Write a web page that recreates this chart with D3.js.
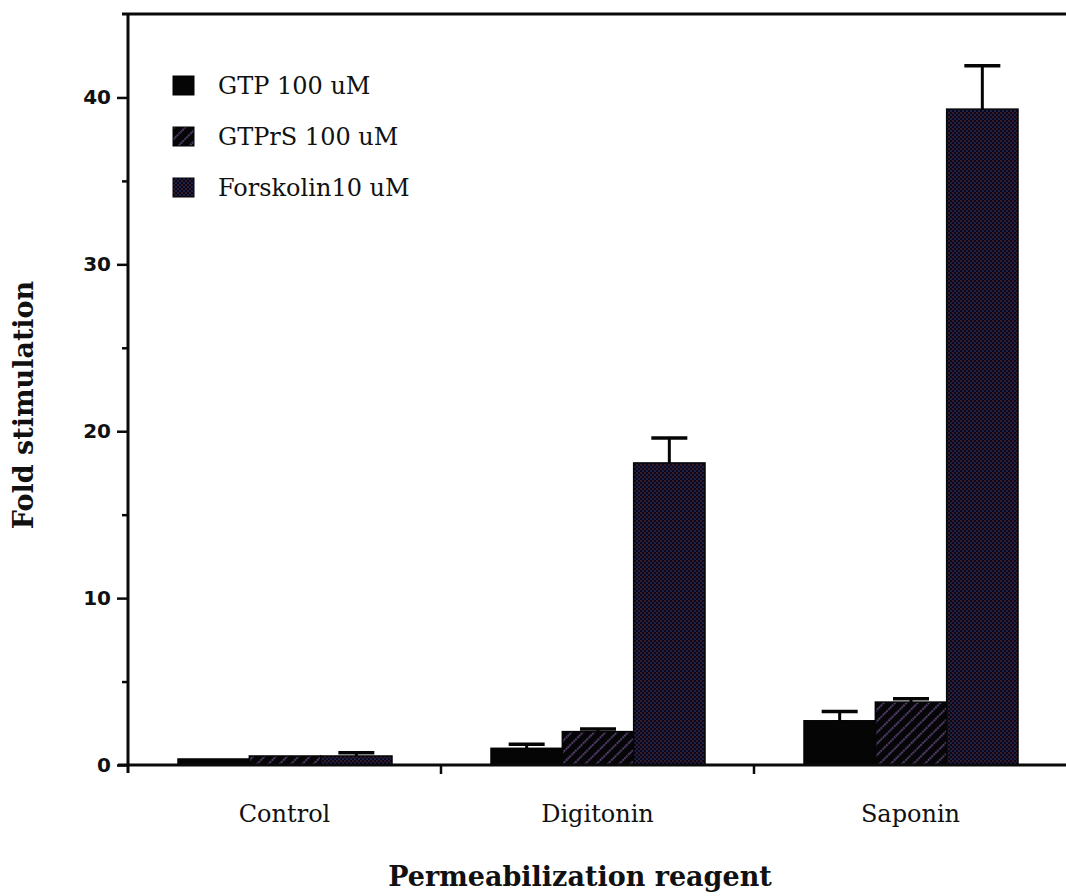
<!DOCTYPE html>
<html>
<head>
<meta charset="utf-8">
<script src="https://cdn.jsdelivr.net/npm/d3@7/dist/d3.min.js"></script>
<style>
  html, body { margin: 0; padding: 0; background: #fff; }
  svg { display: block; }
</style>
</head>
<body>
<svg id="chart" width="1066" height="896"></svg>
<script>
// ---- data ----
const categories = ["Control", "Digitonin", "Saponin"];
const seriesNames = ["GTP 100 uM", "GTPrS 100 uM", "Forskolin10 uM"];
const gtpValues = [0.36, 1.0, 2.65];
const gtpErrors = [0.0, 0.25, 0.55];
const gtprsValues = [0.54, 2.0, 3.77];
const gtprsErrors = [0.0, 0.15, 0.2];
const forskolinValues = [0.54, 18.1, 39.3];
const forskolinErrors = [0.2, 1.5, 2.6];
const yTickValues = [0, 10, 20, 30, 40];
const yMinorTicks = [5, 15, 25, 35];
const yTitle = "Fold stimulation";
const xTitle = "Permeabilization reagent";

const seriesData = [
  { name: seriesNames[0], values: gtpValues, errors: gtpErrors, fill: "#050505" },
  { name: seriesNames[1], values: gtprsValues, errors: gtprsErrors, fill: "url(#hatch)" },
  { name: seriesNames[2], values: forskolinValues, errors: forskolinErrors, fill: "url(#dots)" }
];

const svg = d3.select("#chart");

// ---- patterns ----
const defs = svg.append("defs");
const hatch = defs.append("pattern")
  .attr("id", "hatch").attr("patternUnits", "userSpaceOnUse")
  .attr("width", 8).attr("height", 8)
  .attr("patternTransform", "rotate(45)");
hatch.append("rect").attr("width", 8).attr("height", 8).attr("fill", "#060508");
hatch.append("line").attr("x1", 2).attr("y1", 0).attr("x2", 2).attr("y2", 8)
  .attr("stroke", "#6a4f86").attr("stroke-width", 1.8)
  .attr("stroke-dasharray", "1.6,1.2");

const dots = defs.append("pattern")
  .attr("id", "dots").attr("patternUnits", "userSpaceOnUse")
  .attr("width", 4).attr("height", 4);
dots.append("rect").attr("width", 4).attr("height", 4).attr("fill", "#0a0818");
dots.append("circle").attr("cx", 1).attr("cy", 1).attr("r", 0.8).attr("fill", "#6e3442");
dots.append("circle").attr("cx", 3).attr("cy", 3).attr("r", 0.8).attr("fill", "#34428a");

// ---- scales ----
const y = d3.scaleLinear().domain([0, 45]).range([765, 14]);
const x = d3.scaleBand().domain(categories).range([128, 1067]).padding(0);
const xInner = d3.scaleBand().domain(seriesNames).range([50, 264]).padding(0);

// ---- bars ----
const groups = svg.append("g").selectAll("g")
  .data(seriesData).join("g");

groups.each(function(s) {
  const g = d3.select(this);
  const rows = categories.map((c, i) => ({ c, v: s.values[i], e: s.errors[i] }));
  g.selectAll("rect").data(rows).join("rect")
    .attr("x", d => x(d.c) + xInner(s.name))
    .attr("y", d => y(d.v))
    .attr("width", xInner.bandwidth())
    .attr("height", d => y(0) - y(d.v))
    .attr("fill", s.fill)
    .attr("stroke", "#050505")
    .attr("stroke-width", 1.5);
  const eb = rows.filter(d => d.e > 0);
  const cx = d => x(d.c) + xInner(s.name) + xInner.bandwidth() / 2;
  g.selectAll("line.ev").data(eb).join("line").attr("class", "ev")
    .attr("x1", cx).attr("x2", cx)
    .attr("y1", d => y(d.v)).attr("y2", d => y(d.v + d.e))
    .attr("stroke", "#050505").attr("stroke-width", 3);
  g.selectAll("line.ec").data(eb).join("line").attr("class", "ec")
    .attr("x1", d => cx(d) - 18).attr("x2", d => cx(d) + 18)
    .attr("y1", d => y(d.v + d.e)).attr("y2", d => y(d.v + d.e))
    .attr("stroke", "#050505").attr("stroke-width", 3.5);
});

// ---- axes ----
const axisColor = "#0a0a0a";
// y axis
const yAxis = svg.append("g").attr("transform", "translate(128,0)")
  .call(d3.axisLeft(y).tickValues(yTickValues).tickSize(11).tickPadding(6).tickFormat(d3.format("d")));
yAxis.select(".domain").remove();
yAxis.selectAll(".tick line").attr("stroke", axisColor).attr("stroke-width", 2.5);
yAxis.selectAll(".tick text")
  .attr("font-family", "'DejaVu Sans', sans-serif")
  .attr("font-weight", "bold")
  .attr("font-size", 20)
  .attr("fill", "#111");
const yMinor = svg.append("g").attr("transform", "translate(128,0)")
  .call(d3.axisLeft(y).tickValues(yMinorTicks).tickSize(6).tickFormat(""));
yMinor.select(".domain").remove();
yMinor.selectAll(".tick line").attr("stroke", axisColor).attr("stroke-width", 2.5);

svg.append("line").attr("x1", 128).attr("x2", 128)
  .attr("y1", y(0) + 8).attr("y2", y(45))
  .attr("stroke", axisColor).attr("stroke-width", 3);
// top frame
svg.append("line").attr("x1", 122).attr("x2", 1066)
  .attr("y1", y(45)).attr("y2", y(45))
  .attr("stroke", axisColor).attr("stroke-width", 3);

// x axis
const xAxis = svg.append("g").attr("transform", `translate(0,${y(0)})`)
  .call(d3.axisBottom(x).tickSize(0).tickPadding(40));
xAxis.select(".domain").remove();
xAxis.selectAll(".tick text")
  .attr("font-family", "'DejaVu Serif', serif")
  .attr("font-size", 24)
  .attr("fill", "#111");
svg.append("line").attr("x1", 118).attr("x2", 1066)
  .attr("y1", y(0)).attr("y2", y(0))
  .attr("stroke", axisColor).attr("stroke-width", 3);
svg.append("g").selectAll("line").data(categories.slice(1)).join("line")
  .attr("x1", d => x(d)).attr("x2", d => x(d))
  .attr("y1", y(0)).attr("y2", y(0) + 9)
  .attr("stroke", axisColor).attr("stroke-width", 2.5);

// ---- titles ----
svg.append("text")
  .attr("transform", `translate(33,405) rotate(-90)`)
  .attr("text-anchor", "middle")
  .attr("font-family", "'DejaVu Serif', serif")
  .attr("font-weight", "bold")
  .attr("font-size", 27)
  .attr("fill", "#111")
  .text(yTitle);
svg.append("text")
  .attr("x", 580).attr("y", 886)
  .attr("text-anchor", "middle")
  .attr("font-family", "'DejaVu Serif', serif")
  .attr("font-weight", "bold")
  .attr("font-size", 27)
  .attr("fill", "#111")
  .text(xTitle);

// ---- legend ----
const legend = svg.append("g").selectAll("g").data(seriesData).join("g")
  .attr("transform", (d, i) => `translate(173,${86 + i * 51})`);
legend.append("rect")
  .attr("x", 0).attr("y", -10).attr("width", 21).attr("height", 19)
  .attr("fill", d => d.fill).attr("stroke", "#050505").attr("stroke-width", 1);
legend.append("text")
  .attr("x", 45).attr("y", 8)
  .attr("font-family", "'DejaVu Serif', serif")
  .attr("font-size", 24)
  .attr("fill", "#111")
  .text(d => d.name);
</script>
</body>
</html>
